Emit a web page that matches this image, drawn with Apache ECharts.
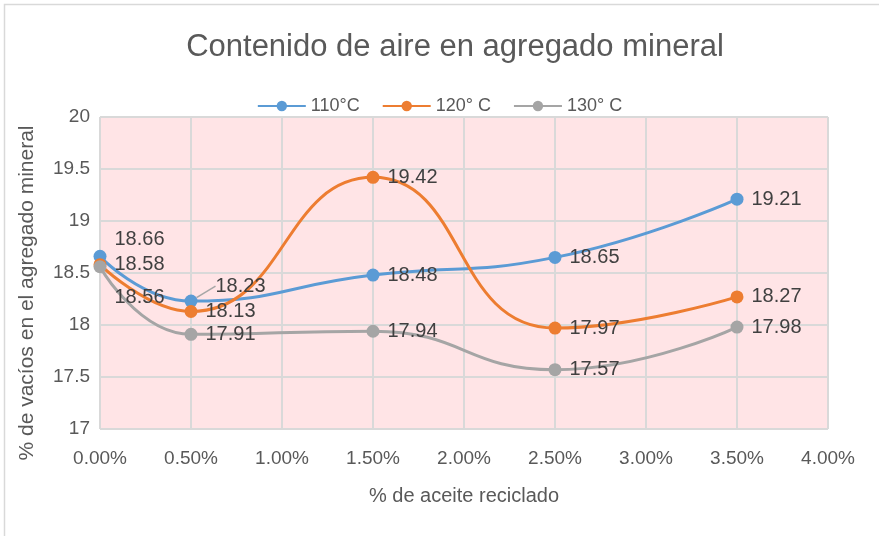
<!DOCTYPE html>
<html>
<head>
<meta charset="utf-8">
<script src="https://cdn.jsdelivr.net/npm/echarts@6/dist/echarts.min.js"></script>
<style>
  html, body { margin: 0; padding: 0; background: #ffffff; }
  #main { width: 879px; height: 536px; }
</style>
</head>
<body>
<div id="main"></div>
<script>
// % de aceite reciclado
var aceite = [0, 0.5, 1.5, 2.5, 3.5]
var serie110 = [18.66, 18.23, 18.48, 18.65, 19.21]
var serie120 = [18.58, 18.13, 19.42, 17.97, 18.27]
var serie130 = [18.56, 17.91, 17.94, 17.57, 17.98]
var nombres = ['110°C', '120° C', '130° C']
var colores = ['#5B9BD5', '#ED7D31', '#A5A5A5']

var fuente = 'Liberation Sans'

// desplazamientos de etiquetas que en el original no van a la derecha
var ajustes = {
  '0-0': [0, -17],
  '0-1': [10, -15],
  '2-0': [0, 31]
}

function armarDatos(valores, s) {
  var out = []
  for (var i = 0; i < valores.length; i++) {
    var item = { value: [aceite[i], valores[i]] }
    if (s === 0 && i === 1) {
      item.labelLine = { show: true, lineStyle: { color: '#A6A6A6', width: 1.5 } }
    }
    out.push(item)
  }
  return out
}

var datos = [serie110, serie120, serie130]
var series = []
for (var s = 0; s < 3; s++) {
  series.push({
    name: nombres[s],
    type: 'line',
    smooth: 0.5,
    data: armarDatos(datos[s], s),
    symbol: 'circle',
    symbolSize: 13,
    lineStyle: { width: 3, color: colores[s] },
    itemStyle: { color: colores[s] },
    label: {
      show: true,
      position: 'right',
      distance: 8,
      color: '#404040',
      fontSize: 20,
      fontFamily: fuente,
      formatter: function(p) { return p.value[1].toFixed(2) }
    },
    labelLayout: function(p) {
      var aj = ajustes[p.seriesIndex + '-' + p.dataIndex]
      if (aj) return { dx: aj[0], dy: aj[1] }
      return {}
    }
  })
}

var chart = echarts.init(document.getElementById('main'))
chart.setOption({
  animation: false,
  backgroundColor: '#ffffff',
  graphic: [{
    type: 'rect',
    shape: { x: 4.5, y: 4.5, width: 900, height: 600 },
    style: { fill: 'none', stroke: '#D9D9D9', lineWidth: 1.5 },
    silent: true
  }],
  title: {
    text: 'Contenido de aire en agregado mineral',
    left: 450,
    textAlign: 'center',
    top: 27,
    textStyle: { fontFamily: fuente, fontSize: 31, fontWeight: 'normal', color: '#595959' }
  },
  legend: {
    top: 92,
    left: 'center',
    itemWidth: 48,
    itemHeight: 13,
    itemGap: 22,
    textStyle: { fontFamily: fuente, fontSize: 18, color: '#595959' },
    data: nombres
  },
  grid: { left: 100, right: 51, top: 117, bottom: 107, show: true, backgroundColor: '#FFE4E6', borderWidth: 0 },
  xAxis: {
    type: 'value',
    min: 0,
    max: 4,
    interval: 0.5,
    name: '% de aceite reciclado',
    nameLocation: 'middle',
    nameGap: 57,
    nameTextStyle: { fontFamily: fuente, fontSize: 20, color: '#595959' },
    axisLine: { show: false },
    axisTick: { show: false },
    axisLabel: {
      margin: 20,
      fontFamily: fuente, fontSize: 19, color: '#595959',
      formatter: function(v) { return v.toFixed(2) + '%' }
    },
    splitLine: { show: true, lineStyle: { color: '#D9D9D9', width: 2 } }
  },
  yAxis: {
    type: 'value',
    min: 17,
    max: 20,
    interval: 0.5,
    name: '% de vacíos en el agregado mineral',
    nameLocation: 'middle',
    nameGap: 62,
    nameTextStyle: { fontFamily: fuente, fontSize: 21, color: '#595959', padding: [0, 40, 0, 0] },
    axisLine: { show: false },
    axisTick: { show: false },
    axisLabel: { margin: 10, fontFamily: fuente, fontSize: 19, color: '#595959' },
    splitLine: { show: true, lineStyle: { color: '#D9D9D9', width: 2 } }
  },
  series: series
})
</script>
</body>
</html>
